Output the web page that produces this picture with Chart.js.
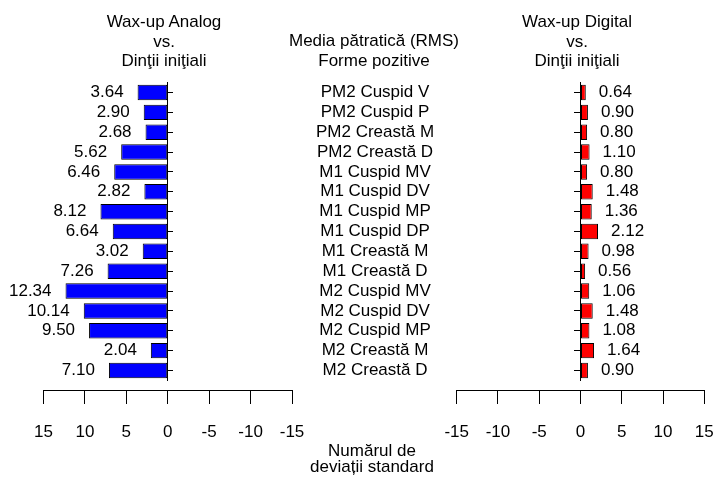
<!DOCTYPE html>
<html>
<head>
<meta charset="utf-8">
<script src="https://cdn.jsdelivr.net/npm/chart.js@4.4.1/dist/chart.umd.min.js"></script>
<style>
    body { margin: 0; background: #fff; }
    #wrap { position: relative; width: 716px; height: 479px; overflow: hidden; font-family: "Liberation Sans", Arial, sans-serif; font-size: 17px; color: #000; }
    canvas { position: absolute; top: 0; }
    #cLeft { left: 0; }
    #cRight { left: 420px; }
    .txt { position: absolute; text-align: center; line-height: 19.5px; white-space: nowrap; }
</style>
</head>
<body>
<div id="wrap">
    <canvas id="cLeft" width="440" height="479" style="width:440px;height:479px"></canvas>
    <canvas id="cRight" width="320" height="479" style="width:320px;height:479px"></canvas>
    <div class="txt" style="left:64px;width:200px;top:12.4px">Wax-up Analog<br>vs.<br>Dinţii iniţiali</div>
    <div class="txt" style="left:274px;width:200px;top:31.4px">Media pătratică (RMS)<br>Forme pozitive</div>
    <div class="txt" style="left:477px;width:200px;top:12.4px">Wax-up Digital<br>vs.<br>Dinţii iniţiali</div>
    <div class="txt" style="left:272px;width:200px;top:443px;line-height:16px">Numărul de<br>deviații standard</div>
</div>
<script>
const categories = [
    'PM2 Cuspid V', 'PM2 Cuspid P', 'PM2 Creastă M', 'PM2 Creastă D',
    'M1 Cuspid MV', 'M1 Cuspid DV', 'M1 Cuspid MP', 'M1 Cuspid DP',
    'M1 Creastă M', 'M1 Creastă D', 'M2 Cuspid MV', 'M2 Cuspid DV',
    'M2 Cuspid MP', 'M2 Creastă M', 'M2 Creastă D'
];
const analogValues = [3.64, 2.90, 2.68, 5.62, 6.46, 2.82, 8.12, 6.64, 3.02, 7.26, 12.34, 10.14, 9.50, 2.04, 7.10];
const digitalValues = [0.64, 0.90, 0.80, 1.10, 0.80, 1.48, 1.36, 2.12, 0.98, 0.56, 1.06, 1.48, 1.08, 1.64, 0.90];
const xMin = -15, xMax = 15, xStep = 5;

const FONT = { family: '"Liberation Sans", Arial, sans-serif', size: 17 };
Chart.defaults.font.family = FONT.family;
Chart.defaults.font.size = FONT.size;
Chart.defaults.color = '#000';

// numbers next to the bar ends
const valueLabels = {
    id: 'valueLabels',
    afterDatasetsDraw(chart, args, opts) {
        const ctx = chart.ctx;
        const meta = chart.getDatasetMeta(0);
        const vals = chart.data.datasets[0].data;
        ctx.save();
        ctx.font = FONT.size + 'px ' + FONT.family;
        ctx.fillStyle = '#000';
        ctx.textBaseline = 'middle';
        ctx.textAlign = opts.side === 'left' ? 'right' : 'left';
        meta.data.forEach((bar, i) => {
            const x = opts.side === 'left' ? bar.x - 14 : bar.x + 13;
            ctx.fillText(vals[i].toFixed(2), x, bar.y);
        });
        ctx.restore();
    }
};

function makeChart(id, side, values, color, padding) {
    const scales = {
        x: {
            type: 'linear',
            min: xMin, max: xMax,
            reverse: side === 'left',
            position: { y: 15.03 },
            afterFit: s => { s.height = 0; },
            ticks: { stepSize: xStep, padding: 18, color: '#000' },
            grid: { drawOnChartArea: false, tickLength: 13, color: '#000' },
            border: { color: '#000', width: 1 }
        },
        y: {
            type: 'category',
            offset: true,
            position: { x: 0 },
            afterFit: s => { s.width = 0; },
            ticks: { display: false },
            grid: { drawOnChartArea: false, offset: false, tickLength: side === 'left' ? -6 : 6, color: '#000' },
            border: { color: '#000', width: 1 }
        }
    };
    if (side === 'left') {
        scales.yLab = {
            type: 'category',
            axis: 'y',
            labels: categories,
            position: 'right',
            offset: true,
            afterFit: s => { s.width = 148; },
            grid: { display: false, drawTicks: false },
            border: { display: false },
            ticks: { autoSkip: false, padding: 24, crossAlign: 'center', color: '#000' }
        };
    }
    return new Chart(document.getElementById(id), {
        type: 'bar',
        data: {
            labels: categories,
            datasets: [{
                data: values,
                backgroundColor: color,
                borderColor: '#000',
                borderWidth: 1,
                borderSkipped: false,
                barPercentage: 0.78,
                categoryPercentage: 1
            }]
        },
        options: {
            indexAxis: 'y',
            responsive: false,
            animation: false,
            layout: { padding: padding },
            scales: scales,
            plugins: {
                legend: { display: false },
                tooltip: { enabled: false },
                valueLabels: { side: side }
            }
        },
        plugins: [valueLabels]
    });
}

makeChart('cLeft', 'left', analogValues, '#0000ff', { left: 43.5, right: 0, top: 82.6, bottom: 98.6 });
// right canvas starts at 420 and runs past the page edge so tick padding does not squeeze the plot
makeChart('cRight', 'right', digitalValues, '#ff0000', { left: 36.7, right: 35.7, top: 82.6, bottom: 98.6 });
</script>
</body>
</html>
